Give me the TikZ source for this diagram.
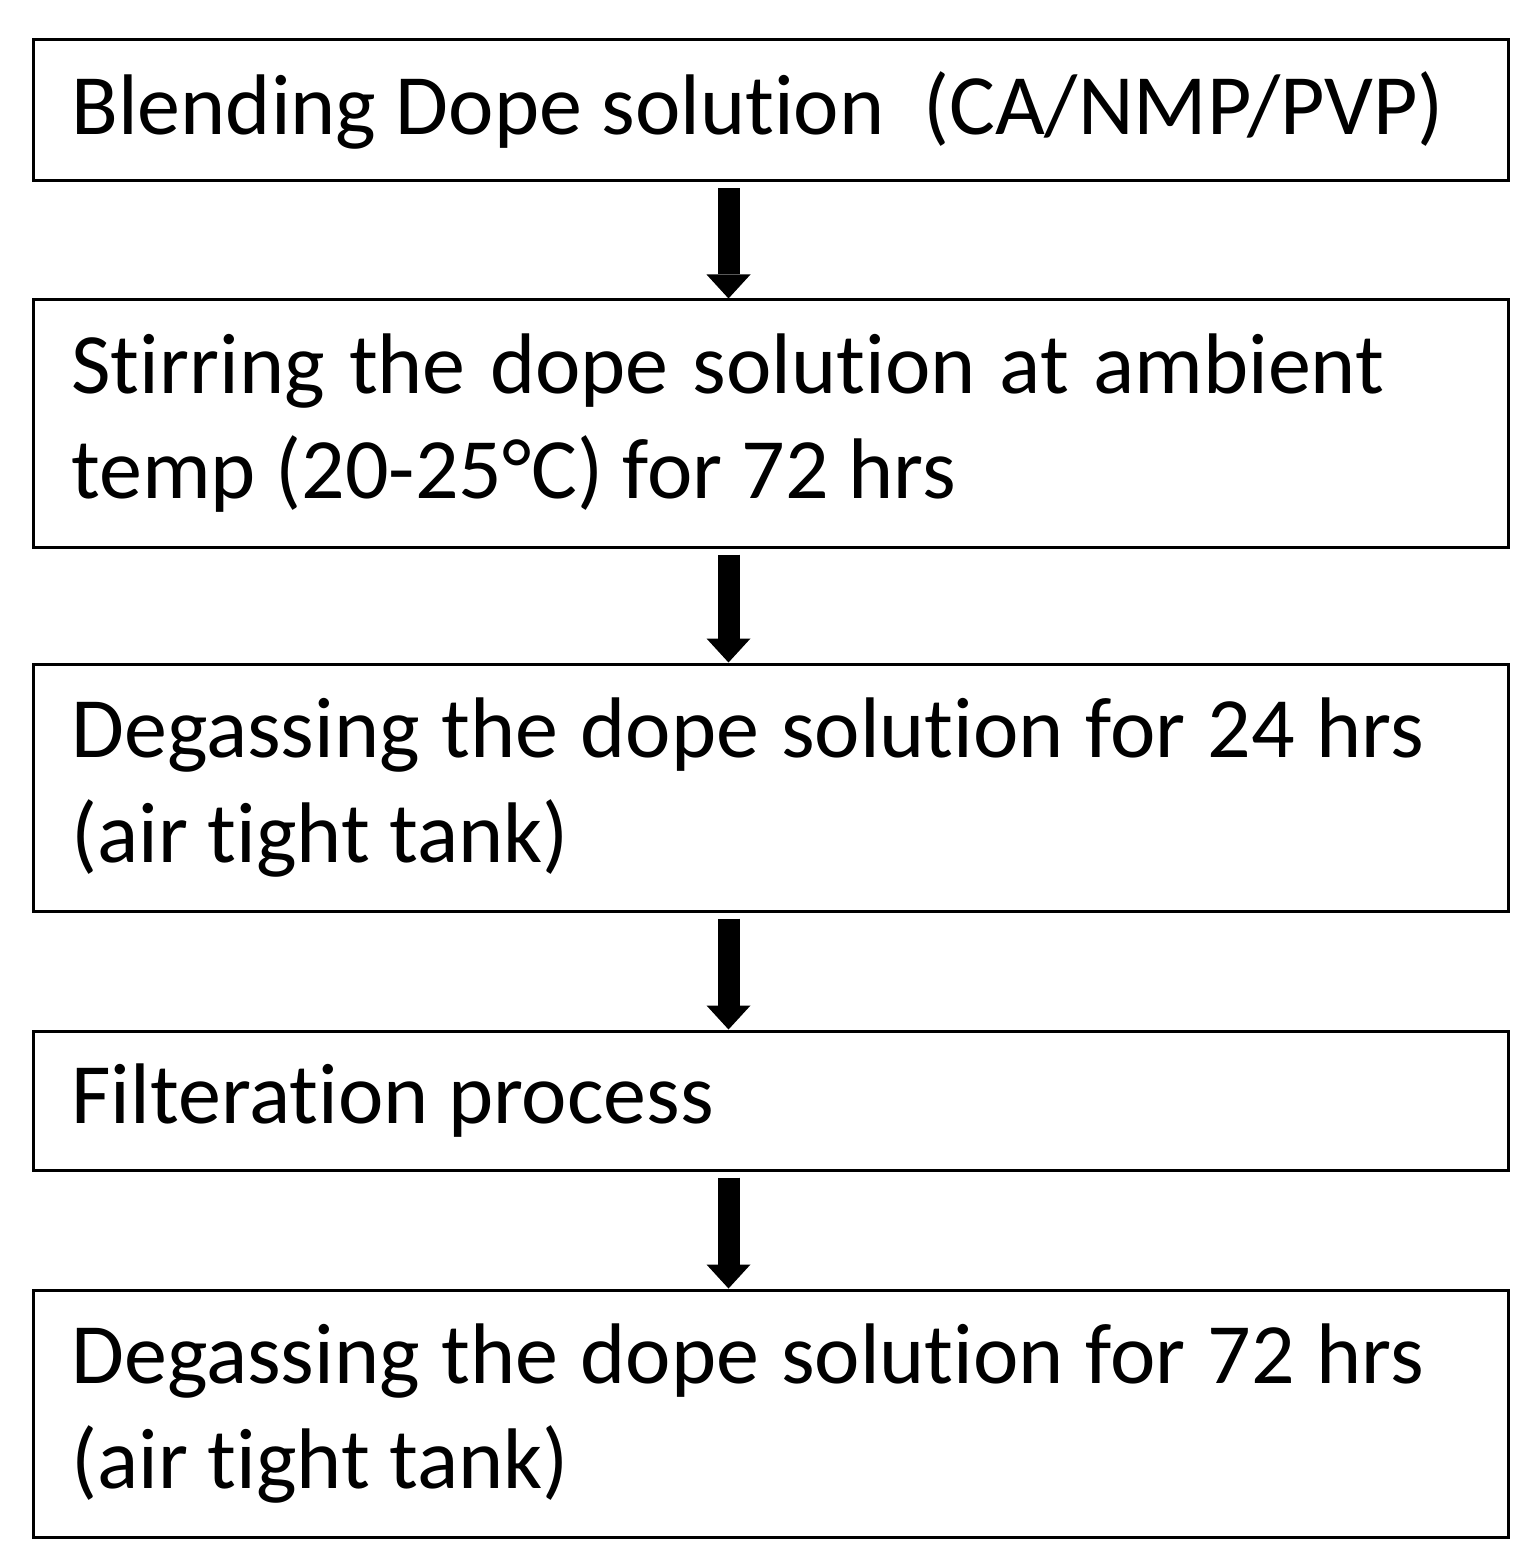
\documentclass[tikz,border=0pt]{standalone}
\usepackage{fontspec}
\setmainfont{Carlito}[Ligatures=NoCommon]
\usetikzlibrary{arrows.meta}
\tikzset{procbox/.style={draw, line width=1.5pt, rectangle, minimum width=737.5pt,
            text width=699pt, inner xsep=19pt, align=left,
            font=\fontsize{43pt}{52.5pt}\selectfont,
            execute at begin node={\spaceskip=0pt\relax}},
         flowarrow/.style={line width=11pt,
            -{Triangle[width=22pt,length=12pt,line width=0pt]}}
}
\begin{document}
\begin{tikzpicture}[x=0.5pt,y=-0.5pt]
\useasboundingbox (0,0) rectangle (1536,1567);

\node[procbox, minimum height=70.5pt] (blend) at (770.5,110.5) {Blending Dope solution\ \ (CA/NMP/PVP)};
\node[procbox, minimum height=123.5pt] (stir) at (770.5,423.5) {Stirring the dope solution at ambient temp (20-25°C) for 72 hrs};
\node[procbox, minimum height=123.5pt] (degas) at (770.5,787.5) {Degassing the dope solution for 24 hrs (air tight tank)};
\node[procbox, minimum height=69.5pt] (filter) at (770.5,1100.5) {Filteration process};
\node[procbox, minimum height=123.5pt] (degasb) at (770.5,1413.5) {Degassing the dope solution for 72 hrs (air tight tank)};

\draw[flowarrow] ([xshift=-21pt,yshift=-3pt]blend.south) -- ([xshift=-21pt]stir.north);
\draw[flowarrow] ([xshift=-21pt,yshift=-3pt]stir.south) -- ([xshift=-21pt]degas.north);
\draw[flowarrow] ([xshift=-21pt,yshift=-3pt]degas.south) -- ([xshift=-21pt]filter.north);
\draw[flowarrow] ([xshift=-21pt,yshift=-3pt]filter.south) -- ([xshift=-21pt]degasb.north);

\end{tikzpicture}
\end{document}
